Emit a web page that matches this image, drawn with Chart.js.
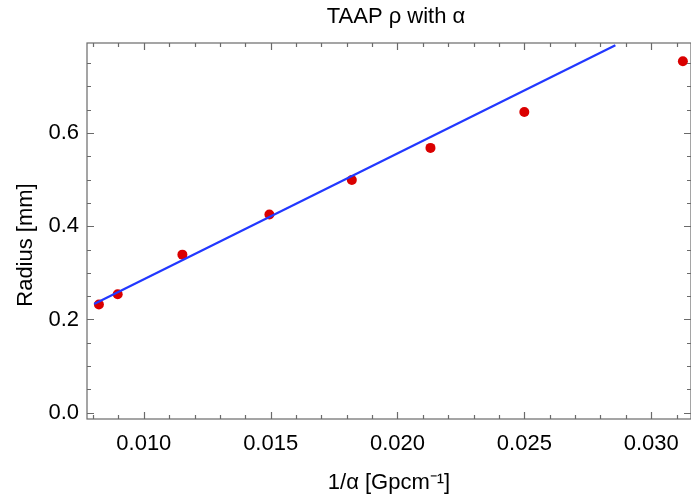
<!DOCTYPE html>
<html>
<head>
<meta charset="utf-8">
<script src="https://cdn.jsdelivr.net/npm/chart.js@4.4.1/dist/chart.umd.min.js"></script>
<style>
  html, body { margin: 0; padding: 0; background: #fff; overflow: hidden; }
  canvas { display: block; }
</style>
</head>
<body>
<canvas id="radiusChart" width="696" height="496"></canvas>
<script>
// measured radius against inverse alpha
const invAlpha = [0.00823, 0.00897, 0.01152, 0.01495, 0.01820, 0.02130, 0.02500, 0.03125];
const radius = [0.232, 0.254, 0.339, 0.425, 0.499, 0.568, 0.645, 0.754];

// straight-line fit, two end points
const fitX = [0.00804, 0.02859];
const fitY = [0.233, 0.788];

const xTicks = [0.010, 0.015, 0.020, 0.025, 0.030];
const yTicks = [0.0, 0.2, 0.4, 0.6];

const titleText = 'TAAP ρ with α';
const yTitle = 'Radius [mm]';
const font = '"Liberation Sans", Arial, sans-serif';

// mathematica-style frame with inward ticks on all four sides
const frameTicks = {
    id: 'frameTicks',
    afterDraw(chart) {
        const {ctx, chartArea: a, scales: {x, y}} = chart;
        ctx.save();
        ctx.strokeStyle = '#6a6a6a';
        ctx.lineWidth = 1.2;
        ctx.strokeRect(a.left, a.top, a.right - a.left, a.bottom - a.top);
        ctx.beginPath();
        for (let i = 8; i <= 31; i++) {
            const px = Math.round(x.getPixelForValue(i / 1000)) + 0.5;
            const len = i % 5 === 0 ? 7 : 4;
            ctx.moveTo(px, a.bottom); ctx.lineTo(px, a.bottom - len);
            ctx.moveTo(px, a.top); ctx.lineTo(px, a.top + len);
        }
        for (let i = 0; i <= 15; i++) {
            const py = Math.round(y.getPixelForValue(i * 0.05)) + 0.5;
            const len = i % 4 === 0 ? 7 : 4;
            ctx.moveTo(a.left, py); ctx.lineTo(a.left + len, py);
            ctx.moveTo(a.right, py); ctx.lineTo(a.right - len, py);
        }
        ctx.stroke();

        ctx.fillStyle = '#000';
        ctx.font = '22px ' + font;
        ctx.textAlign = 'center';
        ctx.textBaseline = 'middle';
        ctx.fillText(titleText, 396, 17);

        ctx.translate(26, 245);
        ctx.rotate(-Math.PI / 2);
        ctx.fillText(yTitle, 0, 0);
        ctx.restore();
    }
};

new Chart(document.getElementById('radiusChart'), {
    type: 'scatter',
    data: {
        datasets: [{
            label: 'fit',
            data: fitX.map((v, i) => ({x: v, y: fitY[i]})),
            showLine: true,
            borderColor: 'rgb(34,56,255)',
            borderWidth: 2.2,
            pointRadius: 0
        }, {
            label: 'radius',
            data: invAlpha.map((v, i) => ({x: v, y: radius[i]})),
            backgroundColor: 'rgb(218,0,0)',
            borderWidth: 0,
            pointRadius: 5
        }]
    },
    options: {
        responsive: false,
        animation: false,
        layout: {padding: {top: 43, right: 3, left: 0, bottom: 0}},
        plugins: {legend: {display: false}, tooltip: {enabled: false}},
        scales: {
            x: {
                type: 'linear',
                min: 0.00776,
                max: 0.03157,
                afterBuildTicks: s => { s.ticks = xTicks.map(v => ({value: v})); },
                afterFit: s => { s.height = 77; },
                grid: {display: false, drawTicks: false},
                border: {display: false},
                ticks: {
                    padding: 12,
                    color: '#000',
                    font: {family: font, size: 22},
                    maxRotation: 0,
                    callback: v => v.toFixed(3)
                },
                title: {
                    display: true,
                    text: '1/α [Gpcm⁻¹]',
                    color: '#000',
                    font: {family: font, size: 22},
                    padding: {top: 4, bottom: 0}
                }
            },
            y: {
                type: 'linear',
                min: -0.0135,
                max: 0.793,
                afterBuildTicks: s => { s.ticks = yTicks.map(v => ({value: v})); },
                afterFit: s => { s.width = 87; },
                grid: {display: false, drawTicks: false},
                border: {display: false},
                ticks: {
                    padding: 8,
                    color: '#000',
                    font: {family: font, size: 22},
                    callback: v => v.toFixed(1)
                }
            }
        }
    },
    plugins: [frameTicks]
});
</script>
</body>
</html>
